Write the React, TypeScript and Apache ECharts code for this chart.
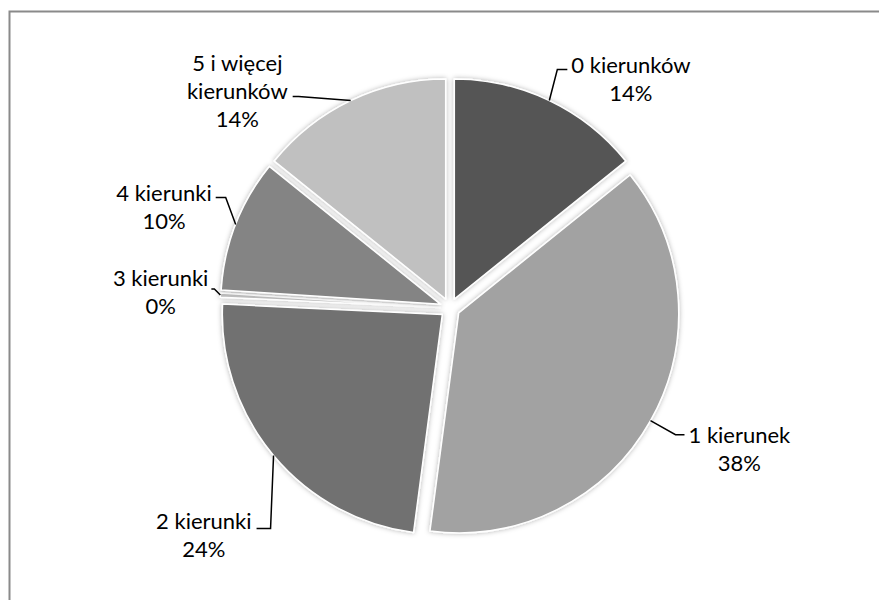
import React, { useEffect, useRef } from "react";
import * as echarts from "echarts";

const categories = ["0 kierunków", "1 kierunek", "2 kierunki", "3 kierunki", "4 kierunki", "5 i więcej\nkierunków"];
const values = [14.3, 38.1, 23.8, 0.3, 9.8, 14.3];
const colors = ["#555555", "#a2a2a2", "#717171", "#bdbdbd", "#848484", "#c0c0c0"];

// leader-line shape per label: elbow offset from slice edge, horizontal run, label centre offset
const elbowOffsets = [[8, -31], [25, 14], [-3, 73], [-6, -6], [-10, -27], [-52, -4]];
const runs = [10, 9, -14, -3, -10, -6];
const gaps = [4, 4, 5, 3, 4, 5];
const labelCentreDy = [9, 14, 6, 2, 9, -6];

const RADIUS = 220;
const EXPLODE = 10;

export default function App() {
  const ref = useRef<HTMLDivElement>(null);
  useEffect(() => {
    const chart = echarts.init(ref.current!, null, { renderer: "svg" });
    const base = {
      type: "pie",
      center: [450, 308],
      startAngle: 90,
      clockwise: true,
      avoidLabelOverlap: false,
      emphasis: { disabled: true },
    };
    chart.setOption({
      animation: false,
      backgroundColor: "#ffffff",
      textStyle: { fontFamily: "Lato, 'Open Sans', sans-serif" },
      graphic: [
        {
          type: "rect",
          shape: { x: 9.5, y: 11.5, width: 900, height: 620 },
          style: { fill: "none", stroke: "#8a8a8a", lineWidth: 2 },
          silent: true,
        },
      ],
      series: [
        {
          ...base,
          radius: RADIUS,
          selectedMode: "multiple",
          selectedOffset: EXPLODE,
          itemStyle: {
            borderColor: "#ffffff",
            borderWidth: 1.5,
            shadowBlur: 5,
            shadowColor: "rgba(0,0,0,0.3)",
          },
          label: { show: false },
          labelLine: { show: false },
          data: categories.map((name, i) => ({
            name,
            value: values[i],
            selected: true,
            itemStyle: { color: colors[i] },
          })),
        },
        {
          ...base,
          radius: RADIUS + EXPLODE,
          silent: true,
          z: 3,
          itemStyle: { color: "rgba(0,0,0,0)", borderWidth: 0 },
          label: {
            show: true,
            position: "outside",
            color: "#000000",
            fontSize: 22,
            lineHeight: 28,
            formatter: (p: any) =>
              p.name
                .split("\n")
                .concat([`${Math.round(p.percent)}%`])
                .map((s: string) => `{c|${s}}`)
                .join("\n"),
            rich: {
              c: { align: "center", fontSize: 22, lineHeight: 28, color: "#000000" },
            },
          },
          labelLine: {
            show: true,
            length: 18,
            length2: 10,
            lineStyle: { color: "#000000", width: 1.5 },
          },
          labelLayout: (params: any) => {
            const i = params.dataIndex;
            const pts = params.labelLinePoints;
            if (!pts) return {};
            const p0 = pts[0];
            const p1 = [p0[0] + elbowOffsets[i][0], p0[1] + elbowOffsets[i][1]];
            const p2 = [p1[0] + runs[i], p1[1]];
            const right = runs[i] > 0;
            return {
              x: p2[0] + (right ? gaps[i] : -gaps[i]),
              y: p2[1] + labelCentreDy[i],
              align: right ? "left" : "right",
              verticalAlign: "middle",
              labelLinePoints: [p0, p1, p2],
            };
          },
          data: categories.map((name, i) => ({ name, value: values[i] })),
        },
      ],
    });
    return () => chart.dispose();
  }, []);
  return (
    <div
      ref={ref}
      style={{ position: "fixed", left: 0, top: 0, width: 879, height: 600 }}
    />
  );
}
